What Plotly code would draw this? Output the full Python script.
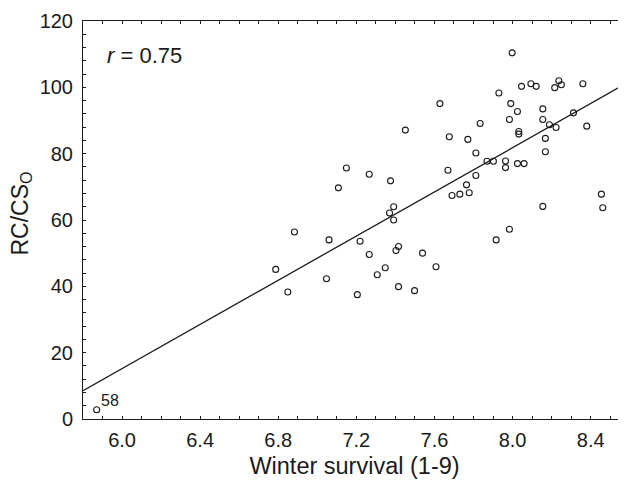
import plotly.graph_objects as go

# Winter survival score (1-9) per genotype
winter_survival = [
    7.998, 8.094, 8.121, 8.046, 8.237, 8.216, 8.250, 8.360, 7.930, 7.628,
    7.991, 8.025, 8.155, 7.984, 8.155, 8.312, 8.380, 8.189, 8.223, 7.834,
    7.451, 8.032, 8.032, 7.676, 7.771, 8.168, 7.812, 8.168, 7.869, 7.902,
    7.964, 7.964, 8.025, 8.059, 7.149, 7.266, 7.375, 7.669, 7.812, 7.108,
    7.764, 7.690, 7.730, 7.778, 8.455, 8.462, 8.155, 7.391, 7.370, 7.391,
    7.219, 7.416, 7.403, 7.266, 7.539, 7.348, 7.307, 7.608, 7.416, 7.498,
    7.205, 7.916, 7.984, 6.883, 7.060, 6.787, 7.047, 6.849, 5.870,
]
# RC/CS_O values
rc_cs = [
    110.4, 101.1, 100.3, 100.3, 102.0, 99.9, 100.8, 101.1, 98.3, 95.1,
    95.1, 92.7, 93.5, 90.3, 90.3, 92.3, 88.3, 88.7, 87.9, 89.1,
    87.1, 86.7, 85.9, 85.1, 84.3, 84.6, 80.2, 80.6, 77.7, 77.7,
    77.8, 75.8, 77.0, 77.0, 75.7, 73.8, 71.8, 75.0, 73.4, 69.7,
    70.6, 67.4, 67.8, 68.2, 67.8, 63.7, 64.1, 64.0, 62.1, 60.0,
    53.6, 52.0, 50.8, 49.6, 50.0, 45.6, 43.5, 45.9, 39.9, 38.7,
    37.5, 54.0, 57.2, 56.4, 54.0, 45.1, 42.3, 38.3, 2.8,
]

# Regression line
fit_slope = 33.3
fit_intercept = -184.6
fit_x = [5.8, 8.6]
fit_y = [fit_intercept + fit_slope * v for v in fit_x]

labelled_point = ("58", 5.870, 2.8)
r_text = "<i>r</i> = 0.75"
x_title = "Winter survival (1-9)"
y_title = "RC/CS<sub>O</sub>"

x_range = [5.8, 8.581]
y_range = [0, 120]
x_ticks = [6.0, 6.4, 6.8, 7.2, 7.6, 8.0, 8.4]
y_ticks = [0, 20, 40, 60, 80, 100, 120]

FONT = "Liberation Sans, Arial, sans-serif"
INK = "#1a1a1a"

fig = go.Figure()
fig.add_trace(go.Scatter(
    x=fit_x, y=fit_y, mode="lines",
    line=dict(color=INK, width=1.3), hoverinfo="skip", showlegend=False,
))
fig.add_trace(go.Scatter(
    x=winter_survival, y=rc_cs, mode="markers",
    marker=dict(symbol="circle-open", size=6, color=INK, line=dict(width=1.1, color=INK)),
    showlegend=False, cliponaxis=False,
))

fig.add_annotation(
    x=labelled_point[1], y=labelled_point[2], text=labelled_point[0],
    showarrow=False, xanchor="left", yanchor="bottom", xshift=2, yshift=-1,
    font=dict(family=FONT, size=16, color=INK),
)
fig.add_annotation(
    xref="paper", yref="paper", x=0.040, y=0.914, text=r_text,
    showarrow=False, xanchor="left", yanchor="middle",
    font=dict(family=FONT, size=22, color=INK),
)
# y-axis title placed as a rotated annotation so it sits where the reference has it
fig.add_annotation(
    xref="paper", yref="paper", x=-0.115, y=0.515, text=y_title,
    showarrow=False, xanchor="center", yanchor="middle", textangle=-90,
    font=dict(family=FONT, size=23, color=INK),
)

# The page body has an 8px default margin, so the figure is sized to the remaining window.
fig.update_layout(
    width=618, height=474,
    margin=dict(l=75, r=0, t=13, b=63),
    paper_bgcolor="white", plot_bgcolor="white",
    font=dict(family=FONT, color=INK),
    xaxis=dict(
        range=x_range, tickvals=x_ticks, ticktext=[f"{v:.1f}" for v in x_ticks],
        ticks="inside", ticklen=3, tickwidth=1, tickcolor=INK,
        showline=True, linecolor=INK, linewidth=1, mirror="allticks",
        showgrid=False, zeroline=False,
        tickfont=dict(family=FONT, size=20, color=INK),
        ticklabelstandoff=3,
        minor=dict(dtick=0.1, tick0=6.0, ticks="inside", ticklen=3, tickcolor=INK, showgrid=False),
        title=dict(text=x_title, font=dict(family=FONT, size=23.5, color=INK), standoff=7),
        automargin=False,
    ),
    yaxis=dict(
        range=y_range, tickvals=y_ticks,
        ticks="inside", ticklen=3, tickwidth=1, tickcolor=INK,
        showline=True, linecolor=INK, linewidth=1, mirror=False,
        showgrid=False, zeroline=False,
        tickfont=dict(family=FONT, size=20, color=INK),
        ticklabelstandoff=5,
        minor=dict(dtick=4, tick0=0, ticks="inside", ticklen=3, tickcolor=INK, showgrid=False),
        automargin=False,
    ),
)

fig.write_html("out.html")
